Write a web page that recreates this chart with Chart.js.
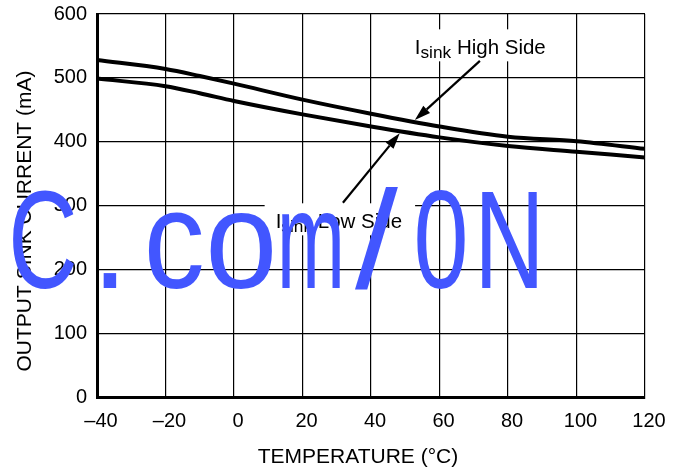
<!DOCTYPE html>
<html>
<head>
<meta charset="utf-8">
<script src="https://cdn.jsdelivr.net/npm/chart.js@4/dist/chart.umd.min.js"></script>
<style>
  html, body { margin: 0; padding: 0; background: #fff; }
  #wrap { width: 674px; height: 473px; position: relative; }
</style>
</head>
<body>
<div id="wrap"><canvas id="c"></canvas></div>
<script>
// Output sink current vs. temperature, high side and low side drivers
const temperatures = [-40, -20, -10, 0, 20, 40, 60, 80, 100, 120];
const highSideSink = [528, 514, 503, 491, 466, 444, 424, 408, 401, 389];
const lowSideSink  = [499, 487, 476, 464, 443, 424, 407, 393.5, 384.5, 375.5];

const xTickLabels = ['–40', '–20', '0', '20', '40', '60', '80', '100', '120'];
const yTickLabels = ['0', '100', '200', '300', '400', '500', '600'];

const xTitle = 'TEMPERATURE (°C)';
const yTitle = 'OUTPUT SINK CURRENT (mA)';
const watermarkText = 'C.com/0N';

const FONT = '"Liberation Sans", Arial, Helvetica, sans-serif';

// Callout labels with arrows, anchored in data units (°C, mA)
const callouts = [
  { lead: 'I', sub: 'sink', tail: ' High Side', at: [53.07, 536.9], from: [71.8, 526.6], to: [52.8, 434] },
  { lead: 'I', sub: 'sink', tail: ' Low Side',  at: [12.45, 264.7], from: [31.8, 304.8], to: [48.4, 413.4] }
];

function arrow(ctx, x0, y0, x1, y1) {
  const ang = Math.atan2(y1 - y0, x1 - x0);
  const len = 16, half = 5;
  const bx = x1 - Math.cos(ang) * len, by = y1 - Math.sin(ang) * len;
  ctx.strokeStyle = '#000';
  ctx.lineWidth = 2.2;
  ctx.beginPath();
  ctx.moveTo(x0, y0);
  ctx.lineTo(bx, by);
  ctx.stroke();
  ctx.fillStyle = '#000';
  ctx.beginPath();
  ctx.moveTo(x1, y1);
  ctx.lineTo(bx + Math.sin(ang) * half, by - Math.cos(ang) * half);
  ctx.lineTo(bx - Math.sin(ang) * half, by + Math.cos(ang) * half);
  ctx.closePath();
  ctx.fill();
}

const overlay = {
  id: 'overlay',
  afterDatasetsDraw(chart) {
    const { ctx, scales: { x, y } } = chart;
    ctx.save();
    callouts.forEach(c => {
      const inkLeft = x.getPixelForValue(c.at[0]);
      const base = y.getPixelForValue(c.at[1]);
      const big = '20.5px ' + FONT, small = '17.3px ' + FONT;
      ctx.font = big;
      const mLead = ctx.measureText(c.lead);
      const tx = inkLeft + mLead.actualBoundingBoxLeft;
      const wLead = mLead.width;
      ctx.font = small;
      const wSub = ctx.measureText(c.sub).width;
      ctx.font = big;
      const wTail = ctx.measureText(c.tail).width;
      const total = wLead + wSub + wTail;

      // white backing behind the label text
      ctx.fillStyle = '#fff';
      ctx.fillRect(inkLeft - 12, base - 25, total + 24, 32);

      ctx.fillStyle = '#000';
      ctx.textBaseline = 'alphabetic';
      ctx.textAlign = 'left';
      ctx.font = big;
      ctx.fillText(c.lead, tx, base);
      ctx.font = small;
      ctx.fillText(c.sub, tx + wLead, base + 4);
      ctx.font = big;
      ctx.fillText(c.tail, tx + wLead + wSub, base);

      arrow(ctx,
        x.getPixelForValue(c.from[0]), y.getPixelForValue(c.from[1]),
        x.getPixelForValue(c.to[0]), y.getPixelForValue(c.to[1]));
    });
    ctx.restore();
  },
  afterDraw(chart) {
    const { ctx } = chart;
    ctx.save();
    ctx.fillStyle = '#000';
    ctx.font = '21px ' + FONT;
    ctx.textAlign = 'center';
    ctx.textBaseline = 'middle';
    ctx.fillText(xTitle, 358, 457);
    ctx.translate(25, 221);
    ctx.rotate(-Math.PI / 2);
    ctx.fillText(yTitle, 0, 0);
    ctx.restore();

    // large blue overlay text, each glyph fitted to its own box
    const boxes = [[13, 74], [103, 117], [148, 202], [210, 272], [282, 340], [355, 398], [417, 465], [482, 537]];
    ctx.save();
    ctx.fillStyle = '#4256FF';
    ctx.font = '140px ' + FONT;
    ctx.textAlign = 'left';
    ctx.textBaseline = 'alphabetic';
    [...watermarkText].forEach((ch, i) => {
      const m = ctx.measureText(ch);
      const w = m.actualBoundingBoxLeft + m.actualBoundingBoxRight;
      const sx = (boxes[i][1] - boxes[i][0]) / w;
      ctx.save();
      ctx.translate(boxes[i][0], 288);
      ctx.scale(sx, 1);
      ctx.fillText(ch, m.actualBoundingBoxLeft, 0);
      ctx.restore();
    });
    ctx.restore();
  }
};

const toPoints = vals => temperatures.map((t, i) => ({ x: t, y: vals[i] }));

new Chart(document.getElementById('c'), {
  type: 'line',
  data: {
    datasets: [
      { label: 'High Side', data: toPoints(highSideSink), borderColor: '#000', borderWidth: 4,
        pointRadius: 0, cubicInterpolationMode: 'monotone', fill: false },
      { label: 'Low Side', data: toPoints(lowSideSink), borderColor: '#000', borderWidth: 4,
        pointRadius: 0, cubicInterpolationMode: 'monotone', fill: false }
    ]
  },
  options: {
    responsive: true,
    maintainAspectRatio: false,
    animation: false,
    devicePixelRatio: 1,
    layout: { padding: { left: 0, right: 29, top: 14, bottom: 0 } },
    plugins: { legend: { display: false }, tooltip: { enabled: false } },
    scales: {
      x: {
        type: 'linear', min: -40, max: 120,
        ticks: { stepSize: 20, autoSkip: false, maxRotation: 0, padding: 12, labelOffset: 4,
                 color: '#000', font: { family: FONT, size: 20 },
                 callback: (v, i) => xTickLabels[i] },
        grid: { color: '#000', lineWidth: 1.2, drawTicks: false },
        border: { color: '#000', width: 3 },
        afterFit(s) { s.height = 75.5; s.paddingLeft = 0; s.paddingRight = 0; }
      },
      y: {
        type: 'linear', min: 0, max: 600,
        ticks: { stepSize: 100, padding: 10, color: '#000', font: { family: FONT, size: 20 },
                 callback: (v, i) => yTickLabels[i] },
        grid: { color: '#000', lineWidth: 1.2, drawTicks: false },
        border: { color: '#000', width: 3 },
        afterFit(s) { s.width = 97; s.paddingTop = 0; s.paddingBottom = 0; }
      }
    }
  },
  plugins: [overlay]
});
</script>
</body>
</html>
